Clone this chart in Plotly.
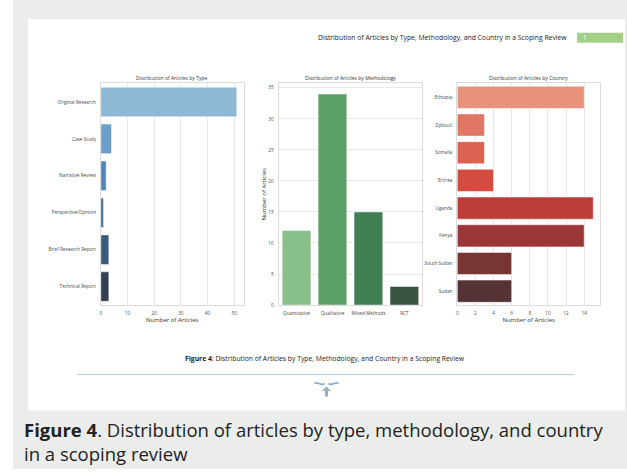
import plotly.graph_objects as go

# ---- data ----
type_labels = ["Original Research", "Case Study", "Narrative Review",
               "Perspective/Opinion", "Brief Research Report", "Technical Report"]
type_counts = [51, 4, 2, 1, 3, 3]
type_colors = ["#8fb8d5", "#6aa0c9", "#4c87ba", "#3f6e9b", "#3a5a7c", "#333f50"]

method_labels = ["Quantitative", "Qualitative", "Mixed Methods", "RCT"]
method_counts = [12, 34, 15, 3]
method_colors = ["#88bf8a", "#5ba167", "#3f7f51", "#3a5441"]

country_labels = ["Ethiopia", "Djibouti", "Somalia", "Eritrea",
                  "Uganda", "Kenya", "South Sudan", "Sudan"]
country_counts = [14, 3, 3, 4, 15, 14, 6, 6]
country_colors = ["#e8917b", "#e07765", "#db6252", "#d44b40",
                  "#be3c38", "#9b3737", "#773634", "#553234"]

W, H = 627, 472
def X(px): return px / W
def Y(py): return 1 - py / H

FONT = "Open Sans"
TICK = dict(family=FONT, size=4.7, color="#4a4a4a")
GRID = "#e8e8e8"
FRAME = "#dcdcdc"

fig = go.Figure()

fig.add_trace(go.Bar(y=type_labels, x=type_counts, orientation="h",
                     marker=dict(color=type_colors, line=dict(color="white", width=0.5)),
                     width=0.8, xaxis="x", yaxis="y", showlegend=False))
fig.add_trace(go.Bar(x=method_labels, y=method_counts,
                     marker=dict(color=method_colors, line=dict(color="white", width=0.5)),
                     width=0.8, xaxis="x2", yaxis="y2", showlegend=False))
fig.add_trace(go.Bar(y=country_labels, x=country_counts, orientation="h",
                     marker=dict(color=country_colors, line=dict(color="white", width=0.5)),
                     width=0.8, xaxis="x3", yaxis="y3", showlegend=False))

top, bot = Y(84), Y(307)
common = dict(showline=True, linecolor=FRAME, linewidth=0.8, mirror=True,
              tickfont=TICK, ticks="", zeroline=False, ticklabelstandoff=3)
ATF = dict(family=FONT, size=6, color="#333")

fig.update_layout(
    width=W, height=H, margin=dict(l=0, r=0, t=0, b=0),
    paper_bgcolor="white", plot_bgcolor="white", bargap=0.2,
    xaxis=dict(domain=[X(100), X(243)], range=[0, 53.55], dtick=10,
               showgrid=True, gridcolor=GRID, gridwidth=0.8,
               title=dict(text="Number of Articles", font=ATF, standoff=1),
               anchor="y", **common),
    yaxis=dict(domain=[bot, top], categoryorder="array", categoryarray=type_labels,
               autorange="reversed", showgrid=False, anchor="x", **common),
    xaxis2=dict(domain=[X(278), X(422)], range=[-0.5, 3.5], showgrid=False,
                anchor="y2", **common),
    yaxis2=dict(domain=[bot, top], range=[0, 35.7], dtick=5, showgrid=True,
                gridcolor=GRID, gridwidth=0.8,
                title=dict(text="Number of Articles", font=ATF, standoff=1),
                anchor="x2", **common),
    xaxis3=dict(domain=[X(457), X(600)], range=[0, 15.75], dtick=2,
                showgrid=True, gridcolor=GRID, gridwidth=0.8,
                title=dict(text="Number of Articles", font=ATF, standoff=1),
                anchor="y3", **common),
    yaxis3=dict(domain=[bot, top], categoryorder="array", categoryarray=country_labels,
                autorange="reversed", showgrid=False, anchor="x3", **common),
)

shapes = [
    # gray page box
    dict(type="rect", xref="paper", yref="paper", x0=X(12), x1=1, y0=0, y1=1,
         fillcolor="#ebedea", line=dict(width=0), layer="below"),
    # white panel
    dict(type="rect", xref="paper", yref="paper", x0=X(27), x1=X(625), y0=Y(413), y1=Y(19),
         fillcolor="white", line=dict(width=0), layer="below"),
    # green page box
    dict(type="rect", xref="paper", yref="paper", x0=X(577), x1=X(623), y0=Y(43), y1=Y(33),
         fillcolor="#a3cf86", line=dict(width=0), layer="below"),
    # separator line
    dict(type="line", xref="paper", yref="paper", x0=X(76), x1=X(574), y0=Y(377), y1=Y(377),
         line=dict(color="#b7cbd6", width=1)),
]
# emblem
ic = "#8aafcf"
def P(pts):
    return "M " + " L ".join(f"{X(a)},{Y(b)}" for a, b in pts)
shapes += [
    dict(type="path", xref="paper", yref="paper",
         path=f"M {X(314)},{Y(386)} C {X(317)},{Y(383)} {X(320)},{Y(389)} {X(324)},{Y(386)}",
         line=dict(color=ic, width=1.8)),
    dict(type="path", xref="paper", yref="paper",
         path=f"M {X(338)},{Y(386)} C {X(335)},{Y(383)} {X(332)},{Y(389)} {X(328)},{Y(386)}",
         line=dict(color=ic, width=1.8)),
    dict(type="path", xref="paper", yref="paper",
         path=P([(321, 394), (326, 389), (331, 394), (327.5, 393), (327.5, 399), (324.5, 399), (324.5, 393)]) + " Z",
         fillcolor=ic, line=dict(width=0)),
]
fig.update_layout(shapes=shapes)

ann = []
def A(text, x, y, size, color="#333", xanchor="center"):
    ann.append(dict(text=text, x=X(x), y=Y(y), xref="paper", yref="paper",
                    showarrow=False, xanchor=xanchor, yanchor="middle",
                    font=dict(family=FONT, size=size, color=color)))

A("Distribution of Articles by Type", 171, 79, 5)
A("Distribution of Articles by Methodology", 350, 79, 5)
A("Distribution of Articles by Country", 528, 79, 5)
A("Distribution of Articles by Type, Methodology, and Country in a Scoping Review",
  569, 38, 6.8, color="#222", xanchor="right")
A("1", 581, 38, 6.5, color="white", xanchor="left")
A("<b>Figure 4</b>: Distribution of Articles by Type, Methodology, and Country in a Scoping Review",
  325, 361, 6.8, color="#222")
ann.append(dict(text="<b>Figure 4</b>. Distribution of articles by type, methodology, and country<br>in a scoping review",
                x=X(21), y=Y(418), xref="paper", yref="paper", showarrow=False,
                xanchor="left", yanchor="top", align="left",
                font=dict(family=FONT, size=18.5, color="#222")))
fig.update_layout(annotations=ann)

fig.write_html("out.html", config={"displayModeBar": False},
               post_script="document.body.style.margin='0';")
